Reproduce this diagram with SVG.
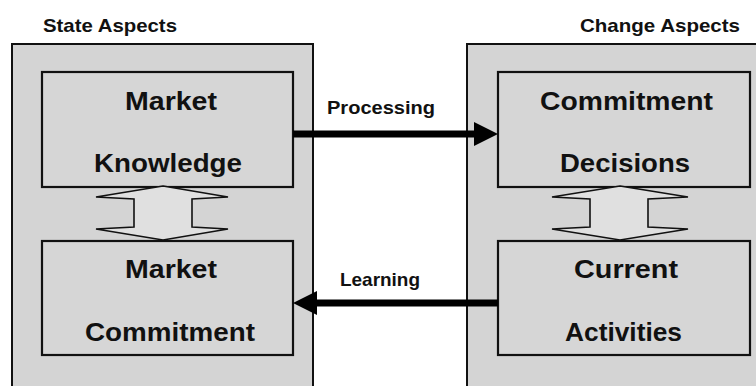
<svg xmlns="http://www.w3.org/2000/svg" width="756" height="386" viewBox="0 0 756 386">
  <style>
    .panel { fill: #d4d4d4; stroke: #111; stroke-width: 2; }
    .box { fill: #d6d6d6; stroke: #111; stroke-width: 2.2; }
    .t { font-family: "Liberation Sans", Arial, sans-serif; font-weight: bold; fill: #111; }
    .title { font-size: 19px; }
    .big { font-size: 26px; }
    .lbl { font-size: 19px; }
    .flow { stroke: #000; stroke-width: 7; fill: none; }
    .head { fill: #000; }
    .dbl { fill: #e0e0e0; stroke: #111; stroke-width: 1.6; stroke-linejoin: miter; }
  </style>
  <rect width="756" height="386" fill="#ffffff"/>

  <!-- State side -->
  <g id="state-aspects">
    <rect class="panel" x="12" y="44" width="301" height="360"/>
    <text class="t title" x="43" y="32" textLength="134" lengthAdjust="spacingAndGlyphs">State Aspects</text>
  </g>
  <!-- Change side -->
  <g id="change-aspects">
    <rect class="panel" x="467" y="44" width="300" height="360"/>
    <text class="t title" x="580" y="32" textLength="160" lengthAdjust="spacingAndGlyphs">Change Aspects</text>
  </g>

  <g id="market-knowledge">
    <rect class="box" x="42" y="72" width="251" height="115"/>
    <text class="t big" x="125" y="110" textLength="92" lengthAdjust="spacingAndGlyphs">Market</text>
    <text class="t big" x="94" y="172" textLength="148" lengthAdjust="spacingAndGlyphs">Knowledge</text>
  </g>
  <g id="market-commitment">
    <rect class="box" x="42" y="241" width="251" height="114"/>
    <text class="t big" x="125" y="278" textLength="92" lengthAdjust="spacingAndGlyphs">Market</text>
    <text class="t big" x="85" y="341" textLength="170" lengthAdjust="spacingAndGlyphs">Commitment</text>
  </g>
  <g id="commitment-decisions">
    <rect class="box" x="498" y="72" width="252" height="115"/>
    <text class="t big" x="540" y="110" textLength="173" lengthAdjust="spacingAndGlyphs">Commitment</text>
    <text class="t big" x="560" y="172" textLength="130" lengthAdjust="spacingAndGlyphs">Decisions</text>
  </g>
  <g id="current-activities">
    <rect class="box" x="498" y="241" width="252" height="114"/>
    <text class="t big" x="574" y="278" textLength="104" lengthAdjust="spacingAndGlyphs">Current</text>
    <text class="t big" x="565" y="341" textLength="117" lengthAdjust="spacingAndGlyphs">Activities</text>
  </g>

  <g id="connectors">
    <!-- two-way links inside each panel -->
    <polygon class="dbl" points="163,186 228,197 192,199 192,227 228,229 163,240 96,229 134,227 134,199 96,197"/>
    <polygon class="dbl" points="620,186 688,197 648,199 648,227 688,229 620,240 552,229 590,227 590,199 552,197"/>
    <!-- Processing: knowledge to decisions -->
    <line class="flow" x1="293" y1="134" x2="477" y2="134"/>
    <polygon class="head" points="474,122 498,134 474,146"/>
    <text class="t lbl" x="327" y="114" textLength="108" lengthAdjust="spacingAndGlyphs">Processing</text>
    <!-- Learning: activities back to commitment -->
    <line class="flow" x1="498" y1="303" x2="314" y2="303"/>
    <polygon class="head" points="317,291 293,303 317,315"/>
    <text class="t lbl" x="340" y="286" textLength="80" lengthAdjust="spacingAndGlyphs">Learning</text>
  </g>
</svg>
